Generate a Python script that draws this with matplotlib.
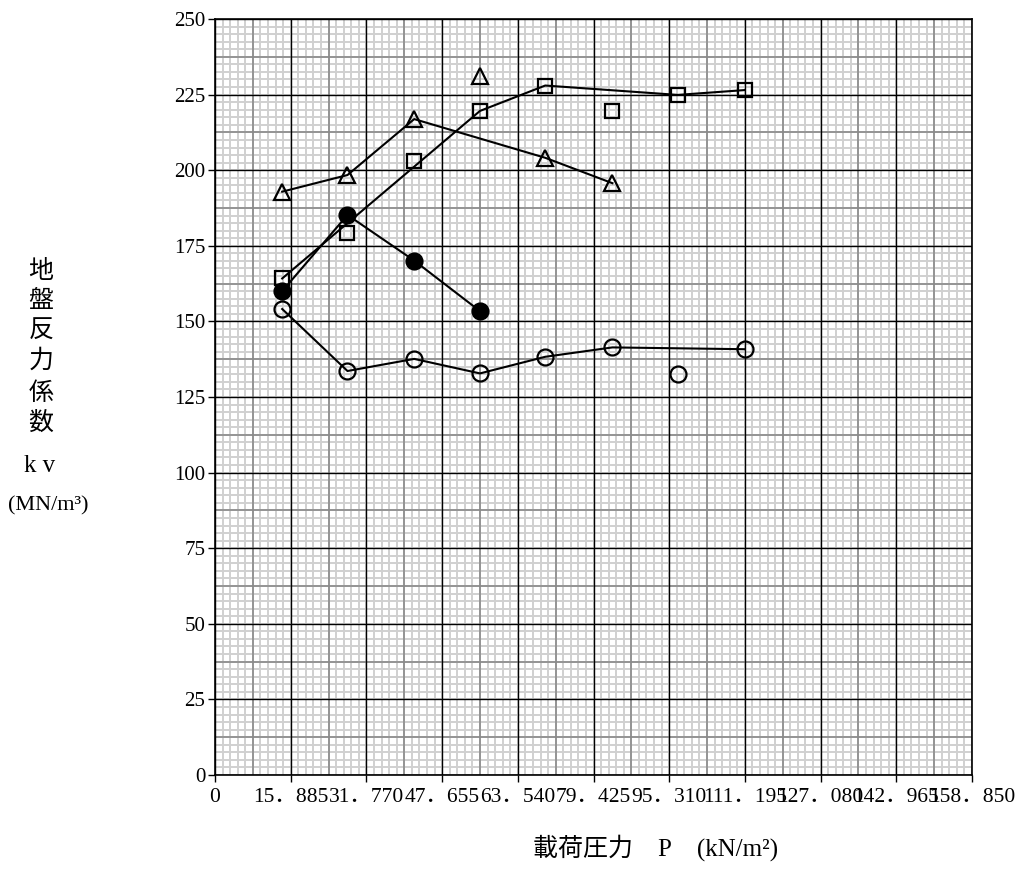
import numpy as np
import matplotlib
matplotlib.use("Agg")
import matplotlib.pyplot as plt

#---data
load = [14.1, 27.8, 41.8, 55.6, 69.3, 83.4, 97.1, 111.2]   # [kN/m2]

kv_open_circle = [154.1, 133.6, 137.6, 132.8, 138.3, 141.4, 132.6, 140.8]
kv_open_circle_line = [0, 1, 2, 3, 4, 5, 7]

kv_filled_circle = [160.0, 185.2, 170.1, 153.4]
kv_filled_circle_line = [0, 1, 2, 3]

kv_square = [164.2, 179.1, 203.1, 219.6, 228.0, 219.7, 224.9, 226.5]
kv_square_line = [0, 3, 4, 6, 7]

kv_triangle = [192.9, 198.4, 216.9, 231.0, 204.1, 195.7]
kv_triangle_line = [0, 1, 2, 4, 5]

x_step = 15.885
x_max = 158.85
y_ticks = [0, 25, 50, 75, 100, 125, 150, 175, 200, 225, 250]

#---figure
W, H = 1020, 891
fig = plt.figure(figsize=(W / 100, H / 100), dpi=100)
ax = fig.add_axes([215 / W, 1 - 775 / H, (972 - 215) / W, (775 - 19) / H])

ax.set_xlim(0, x_max)
ax.set_ylim(0, 250)

#---graph paper: light every 1/10, grey every 1/2, black on majors
for k in range(101):
    ax.axvline(k * x_step / 10, color="#d0d0d0", lw=1.4, zorder=0.1)
    ax.axhline(k * 2.5, color="#d0d0d0", lw=1.4, zorder=0.1)
for k in range(10):
    ax.axvline((k + 0.5) * x_step, color="#8a8a8a", lw=1.2, zorder=0.2)
    ax.axhline((k + 0.5) * 25, color="#8a8a8a", lw=1.2, zorder=0.2)
x_major = np.arange(11) * x_step
for v in x_major:
    ax.axvline(v, color="black", lw=1.0, zorder=0.3)
for v in y_ticks:
    ax.axhline(v, color="black", lw=1.0, zorder=0.3)

ax.set_xticks(x_major)
ax.set_yticks(y_ticks)
ax.tick_params(which="major", length=5, width=1, direction="out", color="black")
for s in ax.spines.values():
    s.set_linewidth(1.2)
    s.set_zorder(5)

#---tick labels
serif_jp = ["Liberation Serif", "Noto Sans CJK JP"]
xlabels = ["0"] + [f"{v:.3f}".replace(".", "．") for v in x_major[1:]]
ax.set_xticklabels(xlabels, fontsize=15.5, family=serif_jp)
ax.set_yticklabels([str(v) for v in y_ticks], fontsize=15, family="Liberation Serif")
ax.tick_params(axis="x", pad=4)
ax.tick_params(axis="y", pad=2)

#---series
def series(vals, idx, marker, ms, filled):
    x = np.array(load[:len(vals)])
    y = np.array(vals)
    ax.plot(x[idx], y[idx], color="black", lw=1.5, zorder=3)
    ax.plot(x, y, ls="none", marker=marker, ms=ms, mec="black", mew=1.6,
            mfc="black" if filled else "none", zorder=4)

series(kv_open_circle, kv_open_circle_line, "o", 11.5, False)
series(kv_filled_circle, kv_filled_circle_line, "o", 11.5, True)
series(kv_square, kv_square_line, "s", 10.5, False)
series(kv_triangle, kv_triangle_line, "^", 11.5, False)

#---axis titles
cjk = ["Noto Sans CJK JP", "DejaVu Sans"]
for ch, yy in zip("地盤反力係数", [271, 301, 331, 361, 393, 423]):
    fig.text(41 / W, 1 - yy / H, ch, fontsize=18, family=cjk, ha="center", va="center")
fig.text(40 / W, 1 - 466 / H, "k v", fontsize=18, family="Liberation Serif", ha="center", va="center")
fig.text(48 / W, 1 - 506 / H, "(MN/m³)", fontsize=16, family="Liberation Serif", ha="center", va="center")
fig.text(656 / W, 1 - 848 / H, "載荷圧力　P　(kN/m²)", fontsize=18, family=serif_jp, ha="center", va="center")

fig.savefig("out.png", dpi=100)
